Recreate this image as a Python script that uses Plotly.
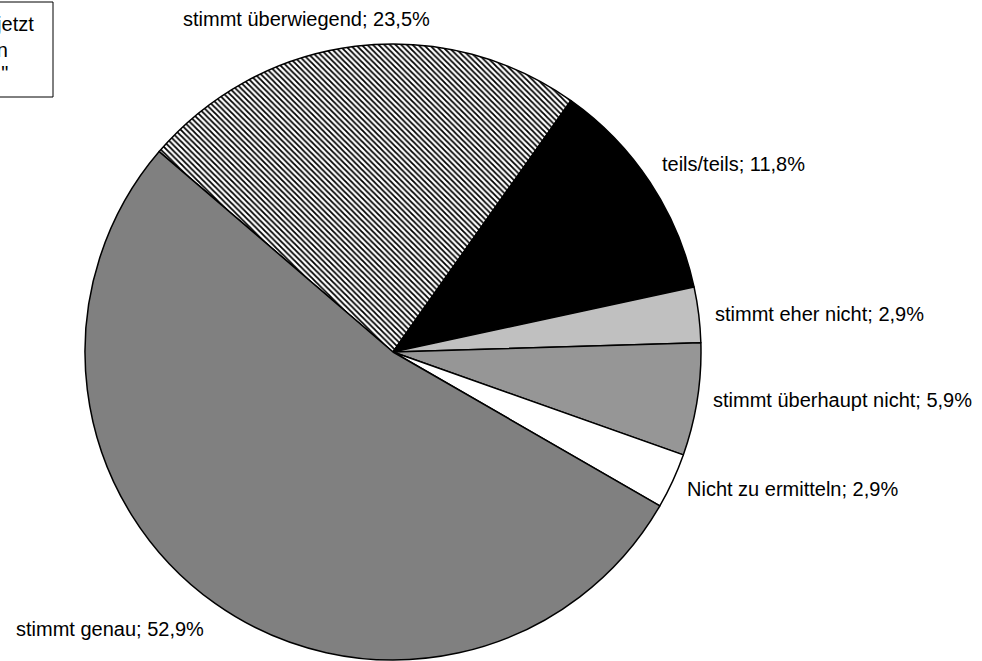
import math
import plotly.graph_objects as go

categories = ["stimmt überwiegend", "teils/teils", "stimmt eher nicht",
              "stimmt überhaupt nicht", "Nicht zu ermitteln", "stimmt genau"]
values = [23.5, 11.8, 2.9, 5.9, 2.9, 52.9]
colors = ["white", "black", "#c0c0c0", "#969696", "white", "#808080"]
pattern_shapes = ["\\", "", "", "", "", ""]

box_lines = ["Bewertung der Aussage: „Ich fühle mich jetzt",
             "besser informiert und kann",
             "meine Aufgaben lösen -\u2009\""]

W, H = 982, 661
L, T, S = 85, 44, 616   # plot area in window pixels
START = -49.4  # degrees, clockwise from 12 o'clock

FONT = dict(family="Liberation Sans, Arial, sans-serif", size=20, color="black")

fig = go.Figure(go.Pie(
    labels=categories, values=values, sort=False, direction="clockwise",
    rotation=START, textinfo="none", hoverinfo="label+value",
    marker=dict(colors=colors, line=dict(color="black", width=1.5),
                pattern=dict(shape=pattern_shapes, fgcolor="black",
                             bgcolor="white", size=4, solidity=0.45)),
    showlegend=False,
))

# label placement: (radius factor, xanchor, xshift)
label_style = [(1.09, "center", -45), (1.11, "left", -18), (1.03, "left", 5),
               (1.0, "left", 14), (1.06, "left", -5), (1.10, "right", 9)]
total = sum(values)
acc = 0.0
annotations = []
for cat, v, (k, xa, xs) in zip(categories, values, label_style):
    mid = START + (acc + v / 2) / total * 360
    acc += v
    th = math.radians(mid)
    x = 0.5 + k * 0.5 * math.sin(th)
    y = 0.5 + k * 0.5 * math.cos(th)
    txt = f"{cat}; {str(v).replace('.', ',')}%"
    annotations.append(dict(x=x, y=y, xref="paper", yref="paper", text=txt,
                            showarrow=False, xanchor=xa, yanchor="middle",
                            xshift=xs, font=FONT))

def px2x(px):
    return (px - L) / S

def py2y(py):
    return (T + S - py) / S

line_ends = [36, 10, 10]
line_ys = [24, 50, 73]
for t, xe, ye in zip(box_lines, line_ends, line_ys):
    annotations.append(dict(x=px2x(xe), y=py2y(ye), xref="paper", yref="paper",
                            text=t, showarrow=False, xanchor="right",
                            yanchor="middle", font=FONT))

fig.add_shape(type="rect", xref="paper", yref="paper",
              x0=px2x(-300), x1=px2x(53), y0=py2y(97), y1=py2y(2),
              line=dict(color="black", width=1), fillcolor="rgba(0,0,0,0)")

fig.update_layout(
    width=W, height=H, autosize=False,
    margin=dict(l=L, r=W - L - S, t=T, b=H - T - S, autoexpand=False),
    paper_bgcolor="white", plot_bgcolor="white",
    annotations=annotations, font=FONT,
)
fig.write_html("out.html",
               config={"displayModeBar": False},
               post_script="document.body.style.margin='0';"
                           "document.body.style.overflow='hidden';")
